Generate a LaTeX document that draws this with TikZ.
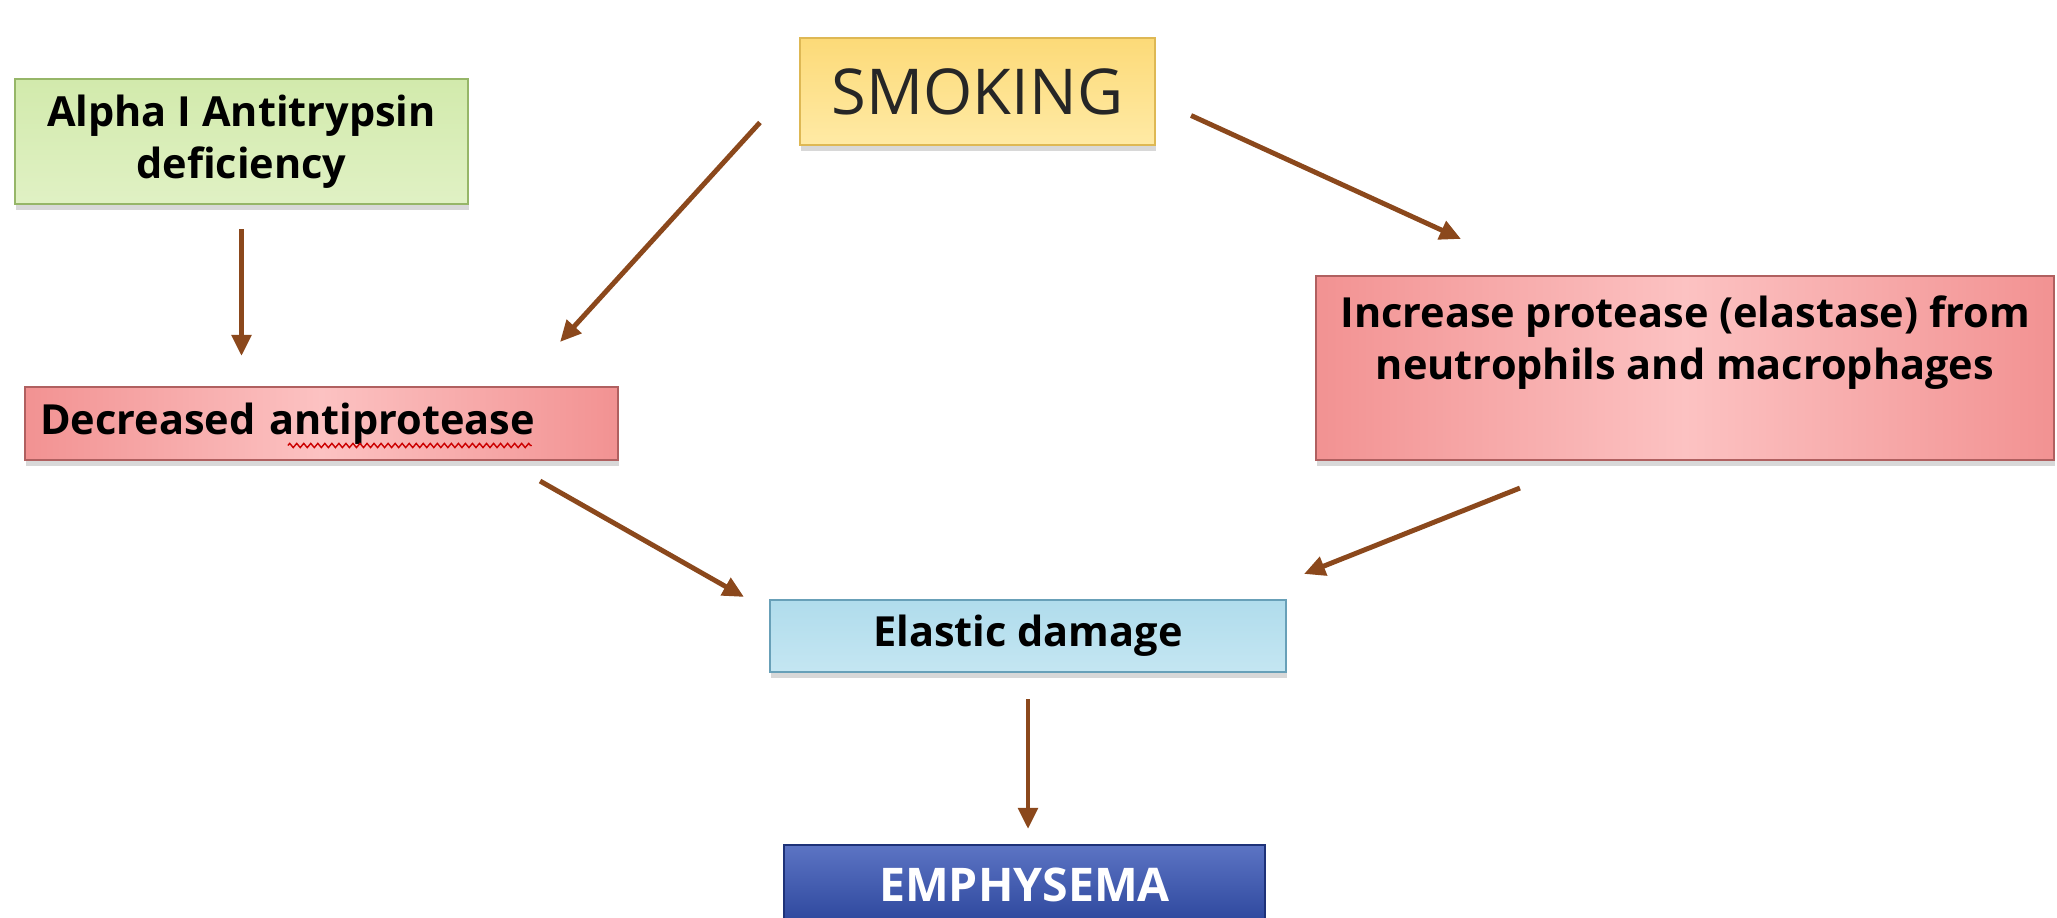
\documentclass[tikz,border=0pt]{standalone}
\usepackage{fontspec}
\setmainfont{Open Sans}
\usetikzlibrary{arrows.meta,shadows,decorations.pathmorphing}
\definecolor{arrowbrown}{RGB}{139,72,28}
\definecolor{greentop}{RGB}{210,234,172}
\definecolor{greenbot}{RGB}{224,241,196}
\definecolor{greenline}{RGB}{150,182,104}
\definecolor{yellowtop}{RGB}{252,218,120}
\definecolor{yellowbot}{RGB}{255,234,165}
\definecolor{yellowline}{RGB}{222,184,84}
\definecolor{pinkedge}{RGB}{242,146,146}
\definecolor{pinkmid}{RGB}{252,194,194}
\definecolor{pinkline}{RGB}{176,96,96}
\definecolor{bluetop}{RGB}{176,220,236}
\definecolor{bluebot}{RGB}{196,230,242}
\definecolor{blueline}{RGB}{104,160,184}
\definecolor{navytop}{RGB}{92,116,196}
\definecolor{navybot}{RGB}{44,70,156}
\definecolor{navyline}{RGB}{30,50,120}

\begin{document}
\begin{tikzpicture}[thick,
        cbox/.style={draw, line width=0.6pt, inner sep=0pt,
            drop shadow={shadow xshift=0.4pt, shadow yshift=-1.8pt, opacity=0.3}},
        pinkbox/.style={cbox, draw=pinkline, left color=pinkedge, right color=pinkedge, middle color=pinkmid},
        lbl/.style={font=\bfseries\fontsize{11.8}{14.8}\selectfont, align=center},
        arr/.style={draw=arrowbrown, line width=1.4pt, -{Triangle[length=6pt,width=5.5pt]}}]
        \useasboundingbox (0,0) rectangle (20.57,9.18);
        \fill[white] (0,0) rectangle (20.57,9.18);
        \clip (0,0) rectangle (20.57,9.18);
        % boxes
        \node[cbox, draw=greenline, top color=greentop, bottom color=greenbot,
            minimum width=4.53cm, minimum height=1.25cm, lbl] (alpha) at (2.415,7.765)
            {Alpha I Antitrypsin\\deficiency};
        \node[cbox, draw=yellowline, top color=yellowtop, bottom color=yellowbot,
            minimum width=3.55cm, minimum height=1.07cm,
            font=\fontsize{18}{21}\selectfont, text=black!85] (smoking) at (9.775,8.265) {SMOKING};
        \node[pinkbox, minimum height=0.73cm, text width=5.63cm, inner xsep=0.15cm, lbl, align=left] (decreased) at (3.215,4.945)
            {Decreased antiprotease};
        \node[pinkbox, minimum width=7.38cm, minimum height=1.84cm] (increase) at (16.85,5.5) {};
        \node[lbl] (increaselbl) at ([yshift=0.25cm]increase.center)
            {Increase protease (elastase) from\\neutrophils and macrophages};
        \node[cbox, draw=blueline, top color=bluetop, bottom color=bluebot,
            minimum width=5.16cm, minimum height=0.72cm, lbl] (elastic) at (10.28,2.82) {Elastic damage};
        \node[cbox, draw=navyline, top color=navytop, bottom color=navybot,
            minimum width=4.81cm, minimum height=0.8cm, text=white,
            font=\bfseries\fontsize{13.2}{16}\selectfont] (emph) at (10.245,0.33) {EMPHYSEMA};
        % spelling squiggle
        \draw[red!80!black, line width=0.4pt, decorate, decoration={zigzag, segment length=2pt, amplitude=0.6pt}]
            ([xshift=2.64cm,yshift=-0.22cm]decreased.west) -- ([xshift=5.08cm,yshift=-0.22cm]decreased.west);
        % arrows
        \draw[arr, shorten <=0.24cm, shorten >=0.3cm] (alpha.south) -- (alpha.south |- decreased.north);
        \draw[arr] ([xshift=-0.39cm,yshift=-0.31cm]smoking.west) -- ([xshift=-0.59cm,yshift=0.44cm]decreased.north east);
        \draw[arr] ([xshift=0.35cm,yshift=-0.24cm]smoking.east) -- ([xshift=1.46cm,yshift=0.36cm]increase.north west);
        \draw[arr] ([xshift=-0.79cm,yshift=-0.2cm]decreased.south east) -- ([xshift=-0.25cm,yshift=0.02cm]elastic.north west);
        \draw[arr] ([xshift=2.05cm,yshift=-0.27cm]increase.south west) -- ([xshift=0.17cm,yshift=0.25cm]elastic.north east);
        \draw[arr, shorten <=0.26cm, shorten >=0.15cm] (elastic.south) -- (elastic.south |- emph.north);
\end{tikzpicture}
\end{document}
